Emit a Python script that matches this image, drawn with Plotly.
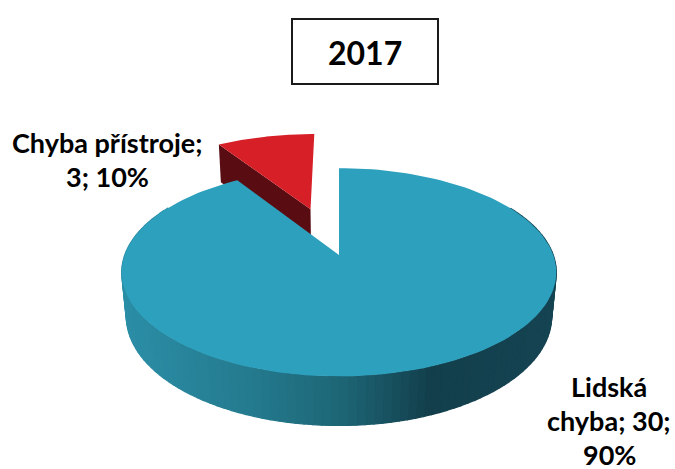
import textwrap
import numpy as np
import plotly.graph_objects as go

# ---- data -------------------------------------------------------------
year = "2017"
categories = ["Lidská chyba", "Chyba přístroje"]
counts = [30, 3]
shares = [90, 10]            # percent, as printed in the labels
label_wrap = [10, 16]        # characters per label line
exploded = [False, True]

# ---- styling ----------------------------------------------------------
W, H = 675, 469
top_colors = ["#2ca0bd", "#d71f27"]
edge_colors = ["#1c6676", "#5a0c13"]
# shading of the blue rim, keyed by screen x
rim_stops_x = [123, 250, 340, 430, 560]
rim_stops_rgb = [(43, 142, 166), (36, 122, 142), (29, 102, 118), (19, 63, 76), (21, 68, 82)]
FONT = "Lato"
LABEL_SIZE = 27

# ---- 3D projection of a tilted pie ------------------------------------
FOCAL, DIST, ELEV = 1140.0, 5.32, np.radians(28.2)
CX, CY = 339.0, 255.0
THICK = 0.236
EXPLODE = 0.51


def proj(X, Y, Z):
    X, Y, Z = np.asarray(X, float), np.asarray(Y, float), np.asarray(Z, float)
    t = Z * np.cos(ELEV) + Y * np.sin(ELEV)
    k = FOCAL / (DIST - t)
    return CX + X * k, CY + (Z * np.sin(ELEV) - Y * np.cos(ELEV)) * k


def rim(theta, ox=0.0, oz=0.0, y=0.0):
    # theta: clockwise from 12 o'clock (far side of the disc)
    return proj(ox + np.sin(theta), np.full_like(theta, y), oz - np.cos(theta))


def rim_color(x):
    rgb = [np.interp(x, rim_stops_x, [c[i] for c in rim_stops_rgb]) for i in range(3)]
    return "rgb(%d,%d,%d)" % tuple(int(round(v)) for v in rgb)


def poly(xs, ys, color, edge=0.0):
    return go.Scatter(x=list(xs), y=list(ys), mode="lines", fill="toself",
                      fillcolor=color, line=dict(width=edge, color=color),
                      hoverinfo="skip", showlegend=False)


def px_to_paper(py):
    return 1.0 - py / H


total = float(sum(counts))
bounds = np.concatenate([[0.0], np.cumsum(counts) / total * 2 * np.pi])

fig = go.Figure()
traces_back, traces_front = [], []

for i, cat in enumerate(categories):
    a0, a1 = bounds[i], bounds[i + 1]
    ox = oz = 0.0
    if exploded[i]:
        mid = 0.5 * (a0 + a1)
        ox, oz = EXPLODE * np.sin(mid), -EXPLODE * np.cos(mid)
    th = np.linspace(a0, a1, 160)
    tx, ty = rim(th, ox, oz)
    cx0, cy0 = proj(ox, 0, oz)
    cxb, cyb = proj(ox, -THICK, oz)
    group = []
    if exploded[i]:
        # radial face along the leading edge, facing the viewer
        ex, ey = rim(np.array([a0]), ox, oz)
        bx, by = rim(np.array([a0]), ox, oz, -THICK)
        group.append(poly([float(cx0), ex[0], bx[0], float(cxb), float(cx0)],
                          [float(cy0), ey[0], by[0], float(cyb), float(cy0)],
                          edge_colors[i]))
    else:
        # shaded outer wall, front part, drawn as narrow strips
        lo, hi = max(a0, np.radians(60)), min(a1, np.radians(300))
        edges = np.linspace(lo, hi, 121)
        for s in range(len(edges) - 1):
            seg = np.linspace(edges[s], edges[s + 1], 4)
            ux, uy = rim(seg, ox, oz)
            dx, dy = rim(seg[::-1], ox, oz, -THICK)
            xs = np.concatenate([ux, dx, ux[:1]])
            ys = np.concatenate([uy, dy, uy[:1]])
            group.append(poly(xs, ys, rim_color(float(np.mean(ux))), edge=1.2))
    # top face
    group.append(poly(np.concatenate([[cx0], tx, [cx0]]),
                      np.concatenate([[cy0], ty, [cy0]]), top_colors[i]))
    if exploded[i]:
        traces_back.extend(group)
    else:
        traces_front.extend(group)

for tr in traces_back + traces_front:
    fig.add_trace(tr)

# ---- data labels ------------------------------------------------------
label_pos = {1: (107, 142), 0: (609, 386)}
LINE = 34
for i, cat in enumerate(categories):
    text = f"{cat}; {counts[i]}; {shares[i]}%"
    lines = textwrap.wrap(text, label_wrap[i])
    x0, y0 = label_pos[i]
    for j, ln in enumerate(lines):
        fig.add_annotation(x=x0 / W, y=px_to_paper(y0 + j * LINE), text=ln,
                           showarrow=False, xref="paper", yref="paper",
                           xanchor="center", yanchor="middle",
                           font=dict(family=FONT, size=LABEL_SIZE, color="#000000",
                                     weight="bold"))

# ---- title box --------------------------------------------------------
fig.add_shape(type="rect", xref="x", yref="y", x0=292, x1=438, y0=19, y1=84,
              line=dict(color="#1a1a1a", width=2), fillcolor="white", layer="below")
fig.add_annotation(x=365 / W, y=px_to_paper(52), text=year, showarrow=False,
                   xref="paper", yref="paper", xanchor="center", yanchor="middle",
                   font=dict(family=FONT, size=32, color="#000000", weight="bold"))

fig.update_layout(
    width=W, height=H, margin=dict(l=0, r=0, t=0, b=0),
    paper_bgcolor="white", plot_bgcolor="white", showlegend=False,
    xaxis=dict(range=[0, W], visible=False, fixedrange=True),
    yaxis=dict(range=[H, 0], visible=False, fixedrange=True),
)

fig.write_html("out.html")
